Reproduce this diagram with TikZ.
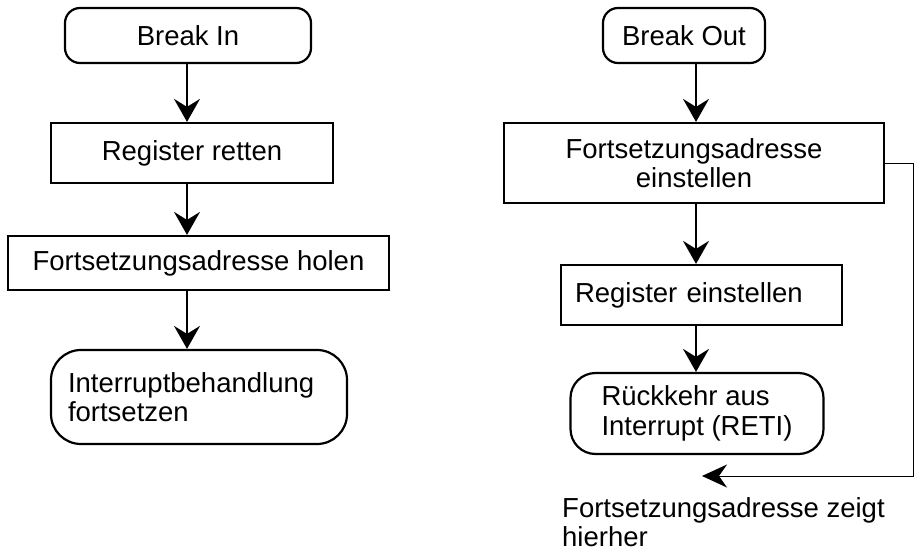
\documentclass[tikz,border=0pt]{standalone}
\usepackage{fontspec}
\setmainfont{Liberation Sans}
\usetikzlibrary{arrows.meta}
\begin{document}
\begin{tikzpicture}[x=1pt,y=-1pt,
  every node/.style={font=\fontsize{27.5}{29.5}\selectfont, inner sep=0pt},
  box/.style={draw, line width=2.2pt},
  flow/.style={line width=1.8pt, -{Stealth[length=23pt,width=26pt,inset=8pt]}},
  back/.style={line width=1pt, -{Stealth[length=25pt,width=23pt,inset=8pt]}}]
\useasboundingbox (0,0) rectangle (915,551);

% left column: Break In
\node[box, rounded corners=15pt, minimum width=246pt, minimum height=55pt] (bin) at (188,35.5) {Break In};
\node[box, minimum width=282pt, minimum height=60pt] (rr) at (192,153) {Register retten};
\node[box, minimum width=381pt, minimum height=54pt] (fh) at (198.5,263) {Fortsetzungsadresse holen};
\node[box, rounded corners=30pt, minimum width=296pt, minimum height=94pt, text width=262pt, inner xsep=17pt, align=left] (ib) at (199,397) {Interruptbehandlung\\fortsetzen};

% right column: Break Out
\node[box, rounded corners=15pt, minimum width=162pt, minimum height=55pt] (bout) at (684,35.5) {Break Out};
\node[box, minimum width=380pt, minimum height=80pt, align=center] (fe) at (694,163) {Fortsetzungsadresse\\einstellen};
\node[box, minimum width=281pt, minimum height=60pt, text width=253pt, inner xsep=14pt, align=left] (re) at (701.5,295) {Register einstellen};
\node[box, rounded corners=25pt, minimum width=253pt, minimum height=81pt, align=left] (ru) at (697,413.5) {Rückkehr aus\\Interrupt (RETI)};

\node[anchor=north west, align=left] (note) at (562,497) {Fortsetzungsadresse zeigt\\hierher};

% column axes for the connectors
\coordinate (colL) at (187,0);
\coordinate (colR) at (696,0);

\draw[flow] (bin.south -| colL) -- (rr.north -| colL);
\draw[flow] (rr.south -| colL) -- (fh.north -| colL);
\draw[flow] (fh.south -| colL) -- (ib.north -| colL);

\draw[flow] (bout.south -| colR) -- (fe.north -| colR);
\draw[flow] (fe.south -| colR) -- (re.north -| colR);
\draw[flow] (re.south -| colR) -- (ru.north -| colR);

% continuation address loop
\coordinate (c1) at (913.5,163);
\coordinate (c2) at (913.5,476);
\coordinate (tip) at (702,476);
\draw[back] (fe.east) -- (c1) -- (c2) -- (tip);
\end{tikzpicture}
\end{document}
